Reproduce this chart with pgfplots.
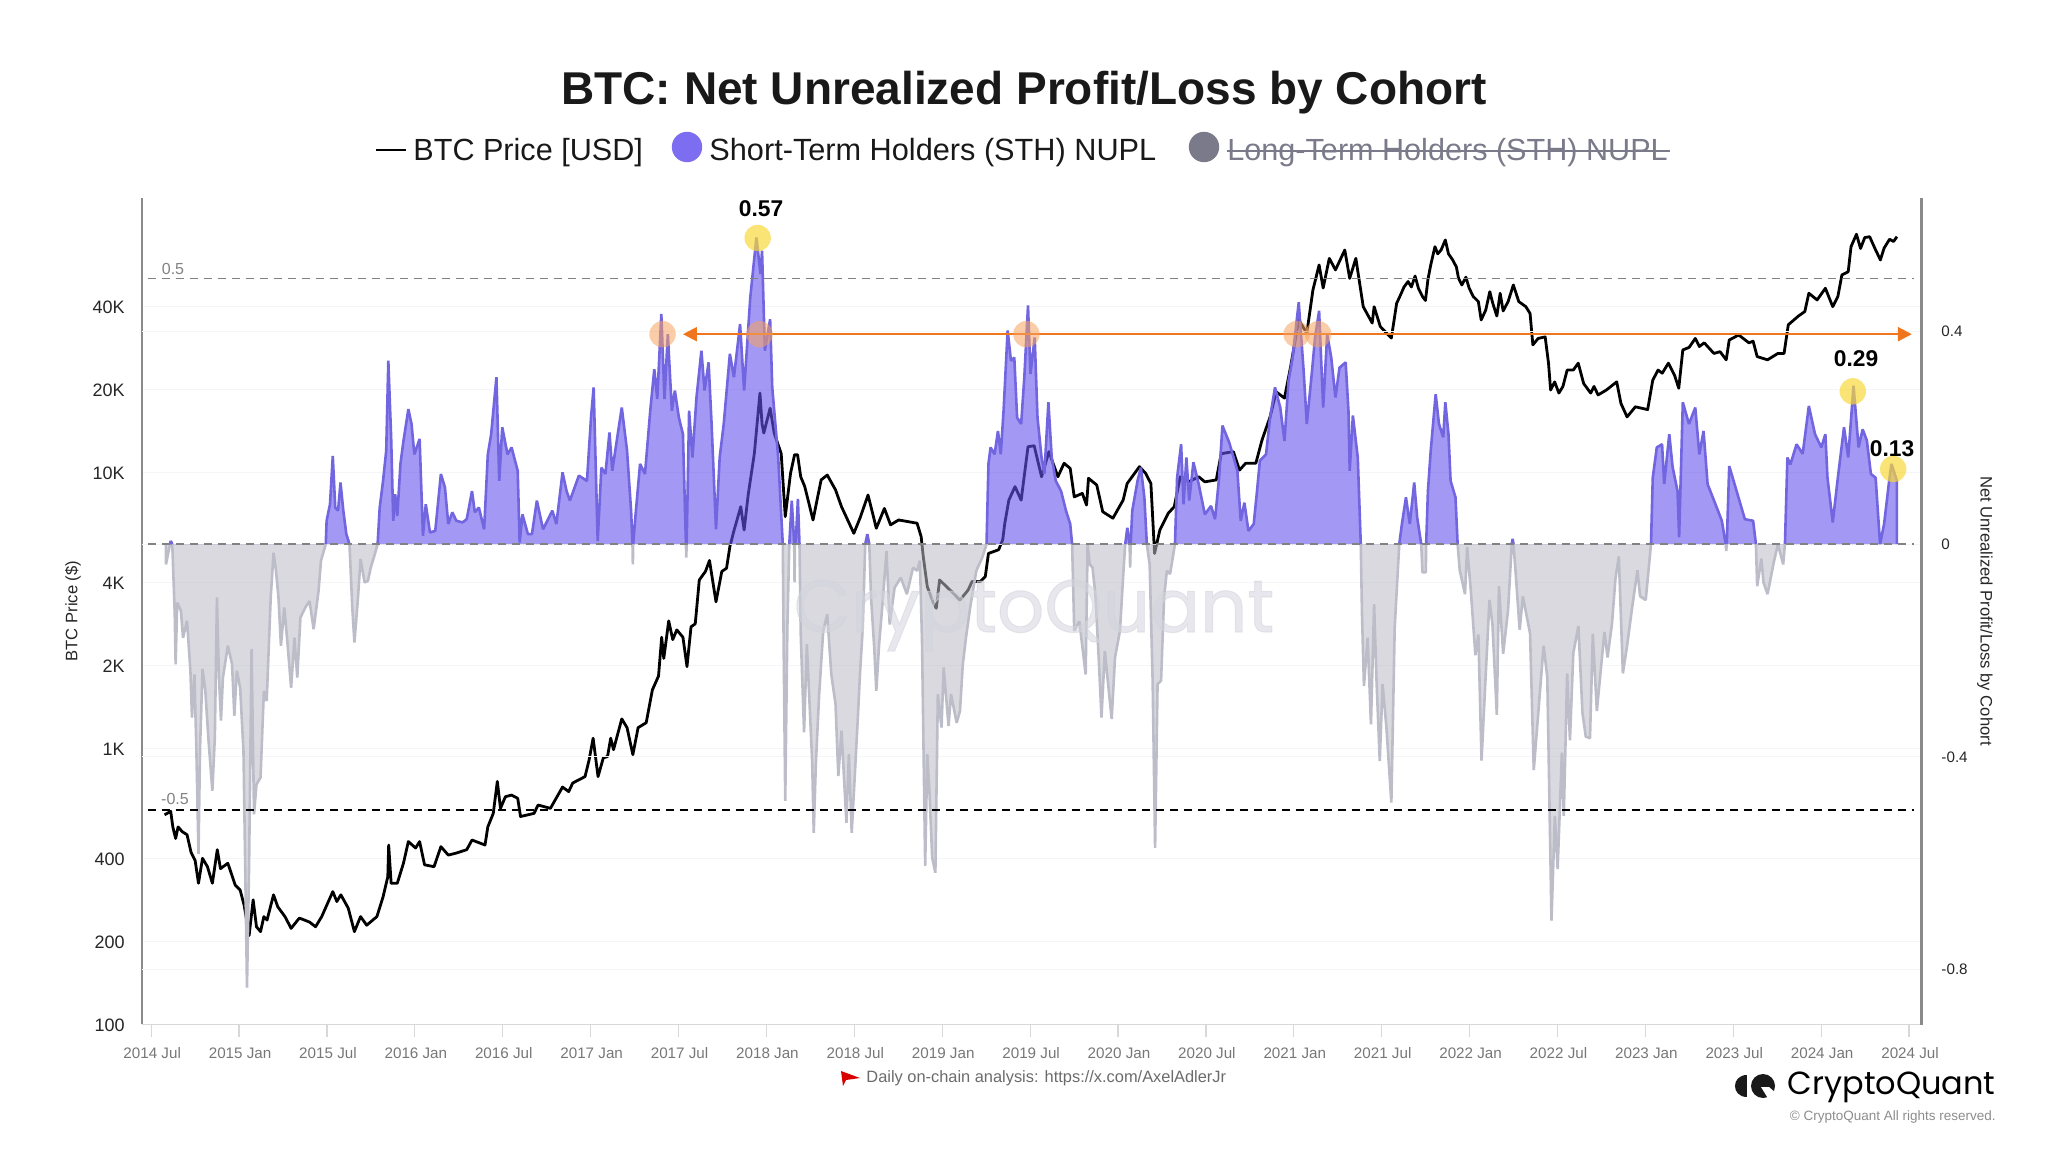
\documentclass[border=0pt]{standalone}
\usepackage{fontspec}
\setmainfont{Liberation Sans}
\newfontfamily\logofont{Poppins}
\newfontfamily\markfont[FakeBold=1.5]{Poppins}
\usepackage{pgfplots}
\usepackage{pgfplotstable}
\pgfplotsset{compat=1.18}
\usetikzlibrary{arrows.meta}

\definecolor{sthfill}{HTML}{6653ED}
\definecolor{sthline}{HTML}{7265E0}
\definecolor{lossfill}{HTML}{BABAC4}
\definecolor{lossline}{HTML}{BDBDC9}
\definecolor{spine}{HTML}{8A8A8A}
\definecolor{baseaxis}{HTML}{D8D8D8}
\definecolor{ticktext}{HTML}{777777}
\definecolor{reftext}{HTML}{828282}
\definecolor{faint}{HTML}{F5F5F7}
\definecolor{legendgray}{HTML}{7A7A8A}
\definecolor{arrowor}{HTML}{F0761E}
\definecolor{markor}{HTML}{F5A360}
\definecolor{markye}{HTML}{F7D83A}
\definecolor{wmark}{HTML}{D4D4DE}

% BTC price, read off the left (log) axis
\pgfplotstableread{
yr p
2014.576 575
2014.611 592
2014.623 520
2014.639 472
2014.653 520
2014.676 500
2014.704 487
2014.727 420
2014.750 393
2014.769 325
2014.792 400
2014.820 373
2014.848 325
2014.876 430
2014.894 367
2014.936 384
2014.978 320
2015.006 307
2015.029 270
2015.057 210
2015.080 283
2015.099 226
2015.122 217
2015.141 246
2015.159 239
2015.196 295
2015.220 267
2015.261 246
2015.296 223
2015.343 243
2015.401 235
2015.435 226
2015.470 246
2015.533 303
2015.556 279
2015.579 295
2015.621 264
2015.656 217
2015.691 246
2015.726 229
2015.784 246
2015.819 290
2015.846 343
2015.851 447
2015.865 325
2015.900 325
2015.935 384
2015.963 460
2016.004 436
2016.027 460
2016.055 379
2016.109 373
2016.148 441
2016.190 411
2016.236 418
2016.295 430
2016.325 466
2016.399 447
2016.415 520
2016.446 582
2016.469 760
2016.487 607
2016.515 669
2016.550 678
2016.585 660
2016.601 567
2016.678 582
2016.701 624
2016.771 607
2016.840 725
2016.875 698
2016.898 750
2016.968 791
2016.991 908
2017.014 1090
2017.042 791
2017.072 925
2017.096 935
2017.114 1090
2017.130 990
2017.177 1280
2017.207 1190
2017.240 950
2017.270 1190
2017.316 1240
2017.351 1630
2017.386 1830
2017.404 2530
2017.416 2120
2017.444 2900
2017.467 2480
2017.490 2690
2017.525 2530
2017.548 1980
2017.571 2760
2017.595 2830
2017.618 4080
2017.653 4380
2017.676 4800
2017.713 3400
2017.746 4380
2017.773 4500
2017.792 5390
2017.815 6150
2017.854 7520
2017.873 6190
2017.896 8290
2017.931 11700
2017.963 19400
2017.975 15000
2017.985 13900
2018.021 17100
2018.044 13900
2018.084 11700
2018.107 6920
2018.137 9930
2018.160 11600
2018.177 11600
2018.195 9650
2018.218 8890
2018.265 6730
2018.311 9400
2018.346 9790
2018.393 8650
2018.427 7520
2018.462 6730
2018.497 6020
2018.532 6830
2018.578 8290
2018.625 6280
2018.671 7410
2018.706 6460
2018.752 6730
2018.857 6550
2018.880 5860
2018.892 4960
2018.915 3860
2018.950 3360
2018.966 3220
2018.985 4080
2019.054 3700
2019.101 3450
2019.147 3750
2019.170 4030
2019.217 4030
2019.245 4200
2019.263 5090
2019.321 5250
2019.344 5700
2019.356 6550
2019.379 7940
2019.414 8890
2019.449 7940
2019.488 12400
2019.523 12500
2019.565 9650
2019.607 11900
2019.658 9650
2019.693 10800
2019.728 10350
2019.751 8160
2019.797 8400
2019.821 7620
2019.832 9530
2019.879 9010
2019.913 7210
2019.971 6830
2020.029 7940
2020.052 9120
2020.122 10500
2020.157 9930
2020.187 9120
2020.208 5090
2020.238 6190
2020.285 7110
2020.320 7520
2020.354 9650
2020.401 9250
2020.459 9650
2020.494 9250
2020.559 9400
2020.587 11700
2020.656 11900
2020.691 10200
2020.726 10800
2020.784 10800
2020.819 13100
2020.865 15900
2020.900 19600
2020.947 18600
2020.982 24200
2021.028 35700
2021.074 32000
2021.109 45900
2021.144 56500
2021.167 46600
2021.202 59700
2021.237 54200
2021.290 64000
2021.318 50500
2021.353 59700
2021.395 39900
2021.446 34800
2021.457 39900
2021.492 33800
2021.555 30700
2021.585 41000
2021.603 43400
2021.627 47000
2021.650 49200
2021.669 47000
2021.690 51500
2021.709 46500
2021.732 43400
2021.749 42000
2021.763 50000
2021.779 56500
2021.803 65800
2021.819 62000
2021.838 64000
2021.862 69600
2021.880 62000
2021.904 58900
2021.925 55500
2021.937 50600
2021.956 47800
2021.979 51000
2021.998 46500
2022.021 43400
2022.050 41600
2022.066 35700
2022.092 38800
2022.115 45200
2022.132 41000
2022.155 36900
2022.174 44600
2022.191 38500
2022.219 41600
2022.249 47800
2022.280 41600
2022.320 39900
2022.344 37700
2022.360 29000
2022.390 30600
2022.430 31000
2022.449 24900
2022.461 19900
2022.484 21300
2022.508 19400
2022.531 20500
2022.555 23500
2022.590 23500
2022.618 24900
2022.649 21000
2022.689 19400
2022.708 20500
2022.731 19100
2022.778 19900
2022.837 21300
2022.861 17800
2022.896 15900
2022.943 17300
2023.013 16900
2023.042 21600
2023.072 23500
2023.096 22900
2023.131 24900
2023.166 22500
2023.190 20200
2023.213 27800
2023.249 28400
2023.284 30600
2023.307 28600
2023.335 29500
2023.390 27000
2023.425 27400
2023.460 25600
2023.477 30200
2023.531 31500
2023.589 29500
2023.613 29900
2023.636 26300
2023.695 25600
2023.754 27000
2023.789 27000
2023.813 34300
2023.871 36900
2023.907 38300
2023.930 44600
2023.977 42200
2024.024 46500
2024.066 39900
2024.095 43400
2024.118 52000
2024.154 53400
2024.170 65800
2024.201 73000
2024.224 64800
2024.248 71000
2024.276 71500
2024.306 64800
2024.337 58900
2024.358 65000
2024.389 70000
2024.412 68700
2024.431 71500
}\pricetbl

% STH NUPL
\pgfplotstableread{
yr v
2014.583 0
2014.584 -.038
2014.607 0
2014.611 .006
2014.620 0
2014.634 -.132
2014.639 -.226
2014.648 -.110
2014.669 -.125
2014.681 -.176
2014.704 -.144
2014.723 -.238
2014.732 -.326
2014.746 -.245
2014.757 -.386
2014.769 -.583
2014.778 -.383
2014.792 -.235
2014.808 -.276
2014.825 -.364
2014.848 -.464
2014.862 -.364
2014.874 -.100
2014.885 -.245
2014.897 -.332
2014.908 -.251
2014.936 -.191
2014.960 -.226
2014.973 -.323
2014.987 -.238
2015.006 -.270
2015.025 -.389
2015.045 -.834
2015.057 -.602
2015.071 -.197
2015.085 -.508
2015.099 -.452
2015.122 -.439
2015.141 -.276
2015.157 -.295
2015.180 -.100
2015.196 -.016
2015.210 -.050
2015.224 -.100
2015.238 -.191
2015.257 -.119
2015.275 -.185
2015.296 -.270
2015.315 -.176
2015.331 -.251
2015.349 -.138
2015.377 -.119
2015.401 -.107
2015.424 -.160
2015.452 -.088
2015.466 -.031
2015.493 0
2015.498 .044
2015.517 .075
2015.533 .166
2015.547 .069
2015.563 .063
2015.577 .116
2015.593 .063
2015.610 .019
2015.628 0
2015.644 -.119
2015.656 -.185
2015.675 -.107
2015.691 -.028
2015.714 -.072
2015.733 -.069
2015.749 -.044
2015.772 -.019
2015.788 0
2015.800 .069
2015.819 .119
2015.837 .176
2015.849 .345
2015.865 .201
2015.877 .044
2015.888 .094
2015.900 .053
2015.918 .151
2015.935 .194
2015.963 .254
2015.981 .226
2015.997 .169
2016.027 .198
2016.046 .016
2016.062 .075
2016.086 .022
2016.116 .025
2016.148 .132
2016.171 .107
2016.190 .038
2016.213 .060
2016.236 .044
2016.271 .041
2016.295 .047
2016.325 .100
2016.341 .060
2016.364 .069
2016.394 .028
2016.415 .169
2016.434 .207
2016.464 .314
2016.480 .119
2016.497 .220
2016.527 .169
2016.550 .182
2016.585 .138
2016.596 .003
2016.612 .056
2016.643 .019
2016.666 .019
2016.694 .082
2016.729 .028
2016.782 .063
2016.805 .038
2016.840 .135
2016.863 .100
2016.882 .082
2016.933 .129
2016.979 .119
2017.002 .238
2017.017 .295
2017.040 .006
2017.061 .144
2017.084 .132
2017.107 .210
2017.123 .138
2017.154 .207
2017.177 .257
2017.207 .176
2017.230 .063
2017.238 0
2017.240 -.038
2017.242 0
2017.254 .050
2017.281 .151
2017.309 .132
2017.339 .251
2017.362 .329
2017.379 .273
2017.402 .433
2017.420 .273
2017.439 .395
2017.462 .251
2017.479 .289
2017.502 .238
2017.525 .207
2017.542 0
2017.544 -.025
2017.546 0
2017.560 .251
2017.579 .163
2017.602 .276
2017.630 .364
2017.648 .289
2017.671 .342
2017.688 .226
2017.713 .028
2017.734 .163
2017.757 .226
2017.792 .358
2017.815 .314
2017.850 .414
2017.873 .289
2017.908 .464
2017.943 .577
2017.966 .508
2017.975 .552
2017.991 .364
2018.021 .423
2018.033 .295
2018.067 .163
2018.084 .056
2018.093 0
2018.098 -.194
2018.107 -.483
2018.119 -.157
2018.130 0
2018.144 .082
2018.156 .013
2018.158 0
2018.160 -.072
2018.162 0
2018.167 .006
2018.179 .085
2018.188 0
2018.195 -.169
2018.214 -.354
2018.230 -.188
2018.260 -.408
2018.269 -.543
2018.281 -.414
2018.300 -.282
2018.323 -.163
2018.346 -.132
2018.369 -.245
2018.393 -.301
2018.409 -.436
2018.427 -.351
2018.455 -.524
2018.469 -.395
2018.485 -.543
2018.502 -.439
2018.520 -.326
2018.532 -.245
2018.548 -.157
2018.562 0
2018.574 .019
2018.585 0
2018.595 -.100
2018.613 -.194
2018.625 -.276
2018.641 -.188
2018.660 -.113
2018.683 -.013
2018.701 -.151
2018.729 -.082
2018.764 -.063
2018.799 -.094
2018.834 -.044
2018.857 -.050
2018.873 -.031
2018.885 -.182
2018.903 -.605
2018.915 -.395
2018.927 -.464
2018.943 -.590
2018.961 -.618
2018.975 -.282
2018.996 -.345
2019.008 -.232
2019.036 -.342
2019.050 -.282
2019.082 -.336
2019.101 -.314
2019.117 -.226
2019.135 -.176
2019.159 -.119
2019.194 -.050
2019.228 -.025
2019.252 0
2019.263 .151
2019.275 .182
2019.298 .169
2019.317 .213
2019.333 .169
2019.349 .251
2019.372 .402
2019.391 .345
2019.410 .351
2019.426 .238
2019.449 .226
2019.467 .314
2019.488 .449
2019.502 .320
2019.526 .389
2019.542 .238
2019.565 .163
2019.581 .132
2019.604 .267
2019.623 .163
2019.646 .119
2019.676 .100
2019.704 .063
2019.728 .038
2019.739 0
2019.751 -.163
2019.780 -.145
2019.816 -.245
2019.827 0
2019.839 -.038
2019.855 -.044
2019.871 -.094
2019.890 -.213
2019.906 -.326
2019.925 -.201
2019.941 -.254
2019.964 -.329
2019.983 -.213
2020.011 -.163
2020.030 -.056
2020.041 0
2020.053 .031
2020.066 0
2020.069 -.044
2020.072 0
2020.081 .063
2020.111 .119
2020.130 .144
2020.150 .088
2020.164 0
2020.180 -.038
2020.197 -.257
2020.211 -.571
2020.225 -.263
2020.245 -.257
2020.262 -.100
2020.278 -.050
2020.296 -.056
2020.324 0
2020.336 .125
2020.359 .188
2020.373 .075
2020.389 .163
2020.405 .082
2020.429 .154
2020.459 .113
2020.494 .056
2020.529 .072
2020.552 .047
2020.575 .125
2020.594 .223
2020.633 .191
2020.679 .138
2020.698 .044
2020.719 .078
2020.742 .025
2020.772 .038
2020.789 .094
2020.807 .157
2020.842 .169
2020.865 .238
2020.893 .295
2020.923 .257
2020.947 .194
2020.970 .307
2020.993 .351
2021.028 .455
2021.056 .326
2021.074 .226
2021.102 .320
2021.121 .389
2021.144 .439
2021.167 .257
2021.190 .395
2021.213 .351
2021.237 .276
2021.260 .332
2021.295 .342
2021.311 .251
2021.318 .138
2021.336 .242
2021.364 .163
2021.381 0
2021.388 -.132
2021.399 -.267
2021.420 -.176
2021.439 -.339
2021.457 -.113
2021.470 -.251
2021.489 -.408
2021.505 -.263
2021.527 -.345
2021.555 -.486
2021.574 -.157
2021.600 0
2021.615 .038
2021.638 .088
2021.660 .038
2021.685 .116
2021.702 .050
2021.725 0
2021.732 -.053
2021.751 -.053
2021.753 0
2021.763 .100
2021.779 .176
2021.807 .282
2021.826 .226
2021.850 .201
2021.862 .267
2021.880 .207
2021.892 .119
2021.920 .088
2021.932 0
2021.944 -.049
2021.974 -.094
2021.986 -.005
2022.007 -.087
2022.033 -.209
2022.050 -.170
2022.068 -.407
2022.090 -.258
2022.113 -.105
2022.130 -.150
2022.155 -.321
2022.167 -.079
2022.191 -.206
2022.219 -.124
2022.240 0
2022.245 .010
2022.250 0
2022.261 -.049
2022.285 -.161
2022.303 -.098
2022.344 -.168
2022.365 -.425
2022.395 -.300
2022.421 -.191
2022.442 -.250
2022.466 -.708
2022.485 -.511
2022.501 -.611
2022.525 -.392
2022.536 -.511
2022.555 -.243
2022.571 -.369
2022.590 -.205
2022.619 -.154
2022.642 -.317
2022.661 -.362
2022.685 -.365
2022.701 -.169
2022.724 -.314
2022.767 -.165
2022.785 -.213
2022.810 -.150
2022.830 -.064
2022.849 -.023
2022.872 -.243
2022.896 -.191
2022.926 -.116
2022.955 -.049
2022.970 -.098
2023.002 -.105
2023.020 -.042
2023.032 0
2023.042 .125
2023.065 .182
2023.095 .188
2023.107 .113
2023.136 .207
2023.155 .145
2023.183 .100
2023.192 .013
2023.213 .267
2023.248 .226
2023.284 .257
2023.307 .169
2023.331 .213
2023.354 .113
2023.413 .063
2023.435 .044
2023.457 0
2023.460 -.013
2023.463 0
2023.477 .147
2023.519 .100
2023.566 .047
2023.613 .044
2023.629 0
2023.636 -.079
2023.660 -.027
2023.672 -.072
2023.695 -.094
2023.730 -.035
2023.754 0
2023.784 -.038
2023.794 0
2023.808 .163
2023.825 .150
2023.860 .188
2023.895 .170
2023.930 .260
2023.965 .207
2024.001 .182
2024.024 .207
2024.036 .125
2024.066 .041
2024.095 .125
2024.130 .220
2024.154 .163
2024.184 .298
2024.213 .182
2024.236 .216
2024.260 .195
2024.283 .132
2024.310 .125
2024.335 0
2024.358 .038
2024.389 .125
2024.400 .151
2024.431 .119
2024.431 0
}\nupl

\pgfplotsset{
  chartbase/.style={
    scale only axis, width=889.75pt, height=413.25pt,
    at={(71pt,63.75pt)}, anchor=south west,
    xmin=2014.4477, xmax=2024.571,
    ymajorgrids, major grid style={draw=faint, line width=.6pt},
    tick align=outside, clip=true,
  },
  xticks/.style={
    xtick={2014.5,2015,2015.5,2016,2016.5,2017,2017.5,2018,2018.5,2019,2019.5,2020,2020.5,2021,2021.5,2022,2022.5,2023,2023.5,2024,2024.5},
    xticklabels={2014 Jul,2015 Jan,2015 Jul,2016 Jan,2016 Jul,2017 Jan,2017 Jul,2018 Jan,2018 Jul,2019 Jan,2019 Jul,2020 Jan,2020 Jul,2021 Jan,2021 Jul,2022 Jan,2022 Jul,2023 Jan,2023 Jul,2024 Jan,2024 Jul},
  },
}

\begin{document}
\begin{tikzpicture}
\useasboundingbox (0,0) rectangle (1024pt,576pt);

% left axis: price, drawn first so the areas lie over it
\begin{axis}[chartbase, xticks,
    axis x line*=bottom, axis y line*=left,
    ymode=log, ymin=100, ymax=98770,
    ytick={100,200,400,1000,2000,4000,10000,20000,40000},
    yticklabels={100,200,400,1K,2K,4K,10K,20K,40K},
    minor y tick num=0,
    x axis line style={draw=baseaxis, line width=.8pt},
    y axis line style={draw=spine, line width=1.1pt},
    x tick style={draw=baseaxis, line width=.6pt},
    y tick style={draw=none},
    major tick length=6.5pt,
    xticklabel style={font=\fontsize{7.6}{9}\selectfont, text=ticktext, yshift=-1.5pt, xshift=.5pt},
    yticklabel style={font=\fontsize{9}{10}\selectfont, text=black!85, xshift=1.3pt, yshift=-.4pt},
  ]
\addplot[black, line width=1.4pt, line join=round] table[x=yr, y=p]{\pricetbl};
\end{axis}

% right axis: NUPL
\begin{axis}[chartbase,
    axis x line=none, axis y line*=right,
    ymin=-0.9035, ymax=0.6512,
    ytick={-0.8,-0.4,0,0.4},
    yticklabels={-0.8,-0.4,0,0.4},
    y axis line style={draw=spine, line width=1.1pt},
    y tick style={draw=none},
    major tick length=6.5pt,
    yticklabel style={font=\fontsize{7.6}{9}\selectfont, text=black!85},
    unbounded coords=jump,
  ]
\addplot[draw=none, fill=lossfill, fill opacity=.55] table[x=yr, y expr={min(\thisrow{v},0)}]{\nupl};
\addplot[draw=none, fill=sthfill, fill opacity=.6] table[x=yr, y expr={max(\thisrow{v},0)}]{\nupl};
\addplot[lossline, line width=1.3pt, line join=bevel, restrict y to domain=-1:0] table[x=yr, y=v]{\nupl};
\addplot[sthline, line width=1.3pt, line join=bevel, restrict y to domain=0:1] table[x=yr, y=v]{\nupl};

\addplot[reftext, line width=.8pt, dash pattern=on 4pt off 3pt] coordinates {(2014.48,0.5) (2024.53,0.5)};
\addplot[reftext, line width=.8pt, dash pattern=on 4pt off 3pt] coordinates {(2014.48,0) (2024.53,0)};
\addplot[black, line width=.9pt, dash pattern=on 4pt off 3pt] coordinates {(2014.48,-0.5) (2024.53,-0.5)};

\addplot[arrowor, line width=1.1pt, {Triangle[length=7pt,width=7pt]}-{Triangle[length=7pt,width=7pt]}]
  coordinates {(2017.525,0.395) (2024.516,0.395)};

% highlighted levels and peaks
\addplot[only marks, mark=*, mark size=6.6pt, mark options={draw=markor, draw opacity=0, fill=markor, fill opacity=.55}]
  coordinates {(2017.409,0.395) (2017.961,0.395) (2019.479,0.395) (2021.016,0.395) (2021.139,0.395)};
\addplot[only marks, mark=*, mark size=6.6pt, mark options={draw=markye, draw opacity=0, fill=markye, fill opacity=.7}]
  coordinates {(2017.95,0.576) (2024.18,0.2875) (2024.41,0.1415)};
\end{axis}

% everything that is not data, in the picture's own pixels
\begin{scope}[shift={(0,576pt)}, x=.5pt, y=-.5pt]
\node[text=black!90, font=\bfseries\fontsize{23}{26}\selectfont] at (1024,93) {BTC: Net Unrealized Profit/Loss by Cohort};

% legend
\draw[black, line width=1.1pt] (376,150) -- (406,150);
\node[anchor=west, inner sep=0, font=\fontsize{15.3}{18}\selectfont, text=black!90] at (413,152.5) {BTC Price [USD]};
\fill[sthfill!85!white] (687,147) circle[radius=7.6pt];
\node[anchor=west, inner sep=0, font=\fontsize{15.35}{18}\selectfont, text=black!90] at (709,152.5) {Short-Term Holders (STH) NUPL};
\fill[legendgray] (1204,147) circle[radius=7.6pt];
\node[anchor=west, inner sep=0, font=\fontsize{15.3}{18}\selectfont, text=legendgray] at (1227,152.5) {Long-Term Holders (STH) NUPL};
\draw[legendgray, line width=.9pt] (1227,151) -- (1670,151);

% axis titles
\node[rotate=90, font=\fontsize{8.3}{10}\selectfont, text=black!85] at (73,611) {BTC Price (\$)};
\node[rotate=-90, font=\fontsize{8.3}{10}\selectfont, text=black!85] at (1985,611) {Net Unrealized Profit/Loss by Cohort};

% level labels
\node[text=reftext, font=\fontsize{8}{9}\selectfont] at (173,269) {0.5};
\node[text=reftext, font=\fontsize{8}{9}\selectfont] at (175,799) {-0.5};

% peak labels
\node[font=\bfseries\fontsize{11.4}{13}\selectfont] at (761,209) {0.57};
\node[font=\bfseries\fontsize{11.4}{13}\selectfont] at (1856,359) {0.29};
\node[font=\bfseries\fontsize{11.4}{13}\selectfont] at (1892,449) {0.13};

% watermark
\node[anchor=base, inner sep=0, text=wmark, opacity=.55, font=\markfont\fontsize{37}{42}\selectfont] at (1034,632) {CryptoQuant};

% footer
\fill[red!85!black] (841,1071) -- (860,1078) -- (846,1080) -- (843,1086) -- cycle;
\node[anchor=west, inner sep=0, text=ticktext!90!black, font=\fontsize{8.2}{10}\selectfont] at (866,1078) {Daily on-chain analysis: https://x.com/AxelAdlerJr};

% logo
\fill[black!90] (1747,1075) .. controls (1731,1075) and (1731,1097) .. (1747,1097) -- cycle;
\fill[black!90] (1763,1086) circle[radius=6pt];
\fill[white] (1761,1087) -- (1769,1087) -- (1777,1094) -- (1777,1100) -- (1769,1100) -- cycle;
\node[anchor=east, inner sep=0, font=\logofont\fontsize{16}{18}\selectfont] at (1996,1087) {CryptoQuant};
\node[anchor=east, inner sep=0, text=black!45, font=\fontsize{6.75}{8}\selectfont] at (1996,1117) {© CryptoQuant All rights reserved.};
\end{scope}
\end{tikzpicture}
\end{document}
